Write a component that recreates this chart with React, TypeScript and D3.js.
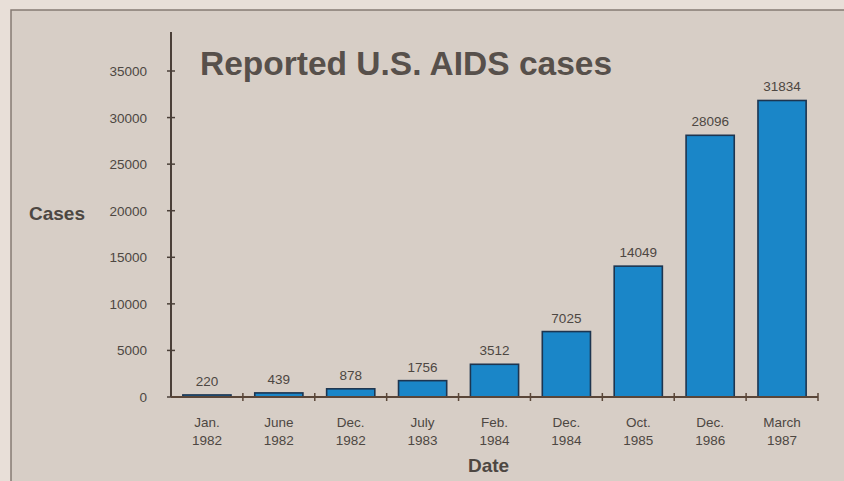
import React from 'react';
import * as d3 from 'd3';

const months = ['Jan.', 'June', 'Dec.', 'July', 'Feb.', 'Dec.', 'Oct.', 'Dec.', 'March'];
const years = ['1982', '1982', '1982', '1983', '1984', '1984', '1985', '1986', '1987'];
const cases = [220, 439, 878, 1756, 3512, 7025, 14049, 28096, 31834];
const yTicks = [0, 5000, 10000, 15000, 20000, 25000, 30000, 35000];

const W = 844;
const H = 481;
const ink = '#4d4742';
const font = "'Liberation Sans', Arial, Helvetica, sans-serif";

class Chart extends React.Component {
	svgRef = React.createRef<SVGSVGElement>();

	componentDidMount() {
		this.drawChart();
	}

	drawChart() {
		const svg = d3.select(this.svgRef.current);
		svg.selectAll('*').remove();

		const x0 = 171;
		const x1 = 818;
		const idx = cases.map((d, i) => String(i));

		const x = d3
			.scaleBand()
			.domain(idx)
			.range([x0, x1])
			.paddingInner(0.33)
			.paddingOuter(0.165);

		const y = d3
			.scaleLinear()
			.domain([0, 35000])
			.range([397, 71]);

		// page + panel
		svg.append('rect').attr('width', W).attr('height', H).attr('fill', '#e8dfd8');
		svg
			.append('rect')
			.attr('x', 11)
			.attr('y', 10)
			.attr('width', W + 20)
			.attr('height', H + 20)
			.attr('fill', '#d7cec6')
			.attr('stroke', '#857b73')
			.attr('stroke-width', 1.5);

		// title
		svg
			.append('text')
			.text('Reported U.S. AIDS cases')
			.attr('x', 200)
			.attr('y', 75)
			.attr('font-family', font)
			.attr('font-weight', 'bold')
			.attr('font-size', '33.5px')
			.attr('fill', '#57504b');

		// bars
		svg
			.selectAll('rect.bar')
			.data(cases)
			.enter()
			.append('rect')
			.attr('class', 'bar')
			.attr('x', (d, i) => x(String(i)) as number)
			.attr('y', d => y(d))
			.attr('width', x.bandwidth())
			.attr('height', d => y(0) - y(d))
			.attr('fill', '#1a86c8')
			.attr('stroke', '#1d3550')
			.attr('stroke-width', 1.6);

		// value labels
		svg
			.selectAll('text.val')
			.data(cases)
			.enter()
			.append('text')
			.attr('class', 'val')
			.text(d => d)
			.attr('x', (d, i) => (x(String(i)) as number) + x.bandwidth() / 2)
			.attr('y', d => y(d) - 9)
			.attr('text-anchor', 'middle')
			.attr('font-family', font)
			.attr('font-size', '13.5px')
			.attr('fill', ink);

		// y axis
		svg
			.append('line')
			.attr('x1', x0)
			.attr('x2', x0)
			.attr('y1', y(39200))
			.attr('y2', y(0))
			.attr('stroke', '#4a3f38')
			.attr('stroke-width', 2);

		const yt = svg.selectAll('g.yt').data(yTicks).enter().append('g').attr('class', 'yt');
		yt
			.append('line')
			.attr('x1', x0 - 4)
			.attr('x2', x0 + 4)
			.attr('y1', d => y(d))
			.attr('y2', d => y(d))
			.attr('stroke', '#4a3f38')
			.attr('stroke-width', 1.5);
		yt
			.append('text')
			.text(d => d)
			.attr('x', 147)
			.attr('y', d => y(d) + 5)
			.attr('text-anchor', 'end')
			.attr('font-family', font)
			.attr('font-size', '13.5px')
			.attr('fill', ink);

		// x axis
		svg
			.append('line')
			.attr('x1', x0)
			.attr('x2', x1)
			.attr('y1', y(0))
			.attr('y2', y(0))
			.attr('stroke', '#5a4638')
			.attr('stroke-width', 2.2);

		svg
			.selectAll('line.xt')
			.data(idx)
			.enter()
			.append('line')
			.attr('class', 'xt')
			.attr('x1', d => x0 + (+d + 1) * x.step())
			.attr('x2', d => x0 + (+d + 1) * x.step())
			.attr('y1', y(0) - 4)
			.attr('y2', y(0) + 4)
			.attr('stroke', '#5a4638')
			.attr('stroke-width', 1.5);

		const xl = svg.selectAll('g.xl').data(idx).enter().append('g').attr('class', 'xl');
		xl
			.append('text')
			.text(d => months[+d])
			.attr('x', d => (x(d) as number) + x.bandwidth() / 2)
			.attr('y', 427)
			.attr('text-anchor', 'middle')
			.attr('font-family', font)
			.attr('font-size', '13.5px')
			.attr('fill', ink);
		xl
			.append('text')
			.text(d => years[+d])
			.attr('x', d => (x(d) as number) + x.bandwidth() / 2)
			.attr('y', 445)
			.attr('text-anchor', 'middle')
			.attr('font-family', font)
			.attr('font-size', '13.5px')
			.attr('fill', ink);

		// axis titles
		svg
			.append('text')
			.text('Cases')
			.attr('x', 29)
			.attr('y', 220)
			.attr('font-family', font)
			.attr('font-weight', 'bold')
			.attr('font-size', '19px')
			.attr('fill', ink);

		svg
			.append('text')
			.text('Date')
			.attr('x', (x0 + x1) / 2 - 6)
			.attr('y', 472)
			.attr('text-anchor', 'middle')
			.attr('font-family', font)
			.attr('font-weight', 'bold')
			.attr('font-size', '19px')
			.attr('fill', ink);
	}

	render() {
		return (
			<svg
				ref={this.svgRef}
				width={W}
				height={H}
				style={{ position: 'absolute', left: 0, top: 0, display: 'block' }}
			/>
		);
	}
}

export default function App() {
	return <Chart />;
}
